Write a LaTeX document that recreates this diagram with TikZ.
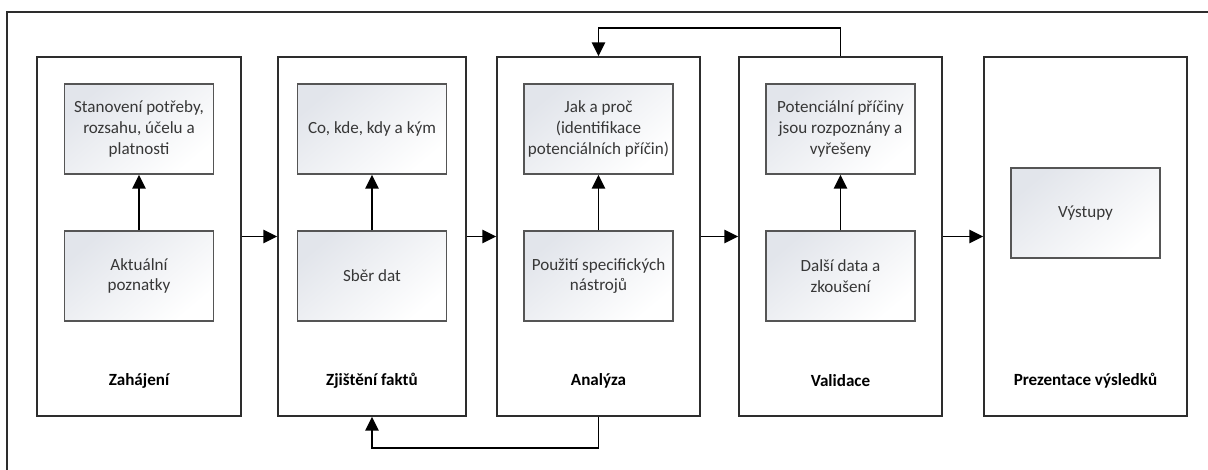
\documentclass[tikz,border=0pt]{standalone}
\usepackage{fontspec}
\setmainfont{Carlito}
\usetikzlibrary{arrows.meta,positioning}

\definecolor{framegray}{RGB}{45,45,45}
\definecolor{innerline}{RGB}{85,85,85}
\definecolor{innershade}{RGB}{226,229,235}
\definecolor{textgray}{RGB}{55,55,55}

\begin{document}
\begin{tikzpicture}[x=0.75pt,y=-0.75pt,>={Triangle[length=10.5pt,width=10pt]},
    every node/.style={font=\fontsize{12.8pt}{15.5pt}\selectfont},
    phase/.style={draw=framegray, line width=1.1pt, minimum height=269.25pt, inner sep=0pt},
    inner/.style={draw=innerline, line width=1.1pt, minimum width=111.75pt, minimum height=67.5pt,
        align=center, text=textgray, inner sep=2pt,
        top color=innershade, bottom color=white, shading angle=40},
    phasetitle/.style={font=\fontsize{12.8pt}{15.5pt}\selectfont\bfseries},
    link/.style={->, line width=1.2pt}]

    \useasboundingbox (0,0) rectangle (1208,469);

    % outer frame (cut by the page on the right and at the bottom)
    \draw[framegray, line width=1.1pt] (7,475) -- (7,12) -- (1215,12);

    % the five phases
    \node[phase, minimum width=153pt]    (zah) at (139,236.5) {};
    \node[phase, minimum width=141pt]    (fak) at (372,236.5) {};
    \node[phase, minimum width=152.25pt] (ana) at (598.5,236.5) {};
    \node[phase, minimum width=152.25pt] (val) at (840.5,236.5) {};
    \node[phase, minimum width=152.25pt] (pre) at (1085.5,236.5) {};

    % phase titles
    \node[phasetitle] (zahT) at (139,381) {Zahájení};
    \node[phasetitle] (fakT) at (372,381) {Zjištění faktů};
    \node[phasetitle] (anaT) at (598.5,381) {Analýza};
    \node[phasetitle] (valT) at (840.5,381) {Validace};
    \node[phasetitle] (preT) at (1085.5,381) {Prezentace výsledků};

    % inner steps (upper row)
    \node[inner] (zahU) at (139,129) {Stanovení potřeby,\\rozsahu, účelu a\\platnosti};
    \node[inner] (fakU) at (372,129) {Co, kde, kdy a kým};
    \node[inner] (anaU) at (598.5,129) {Jak a proč\\(identifikace\\potenciálních příčin)};
    \node[inner] (valU) at (840.5,129) {Potenciální příčiny\\jsou rozpoznány a\\vyřešeny};

    % inner steps (lower row)
    \node[inner] (zahL) at (139,276) {Aktuální\\poznatky};
    \node[inner] (fakL) at (372,276) {Sběr dat};
    \node[inner] (anaL) at (598.5,276) {Použití specifických\\nástrojů};
    \node[inner] (valL) at (840.5,276) {Další data a\\zkoušení};
    \node[inner] (preM) at (1085.5,213) {Výstupy};

    % arrows inside the phases
    \draw[link] (zahL) -- (zahU);
    \draw[link] (fakL) -- (fakU);
    \draw[link] (anaL) -- (anaU);
    \draw[link] (valL) -- (valU);

    % arrows between the phases
    \draw[link] (zah.east) -- (fak.west);
    \draw[link] (fak.east) -- (ana.west);
    \draw[link] (ana.east) -- (val.west);
    \draw[link] (val.east) -- (pre.west);

    % feedback loops
    \draw[link] (val.north) -- ++(0,-28) -| (ana.north);
    \draw[link] (ana.south) -- ++(0,31) -| (fak.south);

\end{tikzpicture}
\end{document}
